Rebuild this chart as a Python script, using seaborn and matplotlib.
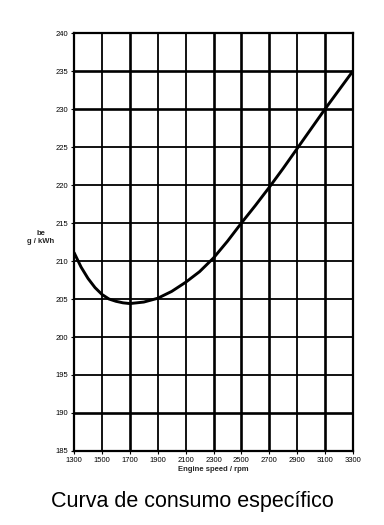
import pandas as pd
import seaborn as sns
import matplotlib.pyplot as plt

# Specific fuel consumption curve
rpm = [1300, 1350, 1400, 1450, 1500, 1550, 1600, 1650, 1700, 1750, 1800, 1900,
       2000, 2100, 2200, 2300, 2400, 2500, 2600, 2700, 2800, 2900, 3000,
       3100, 3200, 3300]
be = [211.1, 209.2, 207.7, 206.5, 205.6, 205.0, 204.7, 204.5, 204.4, 204.5, 204.6, 205.1,
      206.0, 207.2, 208.6, 210.4, 212.6, 215.0, 217.3, 219.7, 222.2, 224.8, 227.4,
      230.0, 232.5, 235.0]

x_ticks = list(range(1300, 3301, 200))
y_ticks = list(range(185, 241, 5))

df = pd.DataFrame({'rpm': rpm, 'be': be})

sns.set_style('white')
plt.rcParams['font.family'] = ['Liberation Sans', 'DejaVu Sans']

fig = plt.figure(figsize=(3.84, 5.25), dpi=100)
ax = fig.add_axes([0.193, 0.141, 0.726, 0.796])

# grid lines, a few heavier like the scan
for xv in x_ticks:
    ax.axvline(xv, color='black', lw=1.9 if xv in (1700, 2300, 2500, 2700, 3100) else 1.3, zorder=1)
for yv in y_ticks:
    ax.axhline(yv, color='black', lw=1.9 if yv in (190, 230, 235) else 1.3, zorder=1)

sns.lineplot(data=df, x='rpm', y='be', color='black', linewidth=2.1, ax=ax, zorder=3)

ax.set_xlim(1300, 3300)
ax.set_ylim(185, 240)
ax.set_xticks(x_ticks)
ax.set_yticks(y_ticks)
ax.tick_params(axis='both', labelsize=5.5, length=2.5, width=0.8, direction='out',
               pad=1.5, left=True, bottom=True, colors='black')
for s in ax.spines.values():
    s.set_linewidth(1.6)
    s.set_color('black')

ax.set_xlabel('Engine speed / rpm', fontsize=5.5, fontweight='bold', labelpad=2)
ax.set_ylabel('be\ng / kWh', fontsize=5.5, fontweight='bold', rotation=0,
              ha='center', va='center', labelpad=0)
ax.yaxis.set_label_coords(-0.12, 0.51)

fig.text(0.5, 0.045, 'Curva de consumo específico', ha='center', va='center',
         fontsize=15.5, color='black')

fig.savefig('out.png', dpi=100)
